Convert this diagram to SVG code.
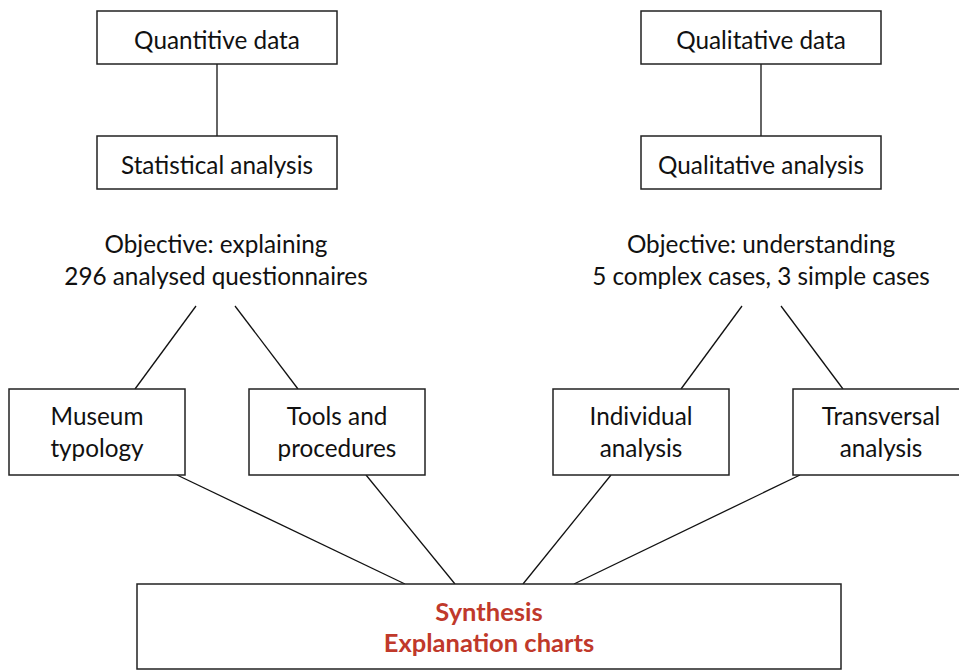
<svg xmlns="http://www.w3.org/2000/svg" width="959" height="670" viewBox="0 0 959 670">
<style>
.box{fill:#fff;stroke:#222;stroke-width:1.5}
.t{font-family:Lato,"Open Sans","Liberation Sans",sans-serif;font-size:24.3px;fill:#111;text-anchor:middle}
.r{font-family:Lato,"Open Sans","Liberation Sans",sans-serif;font-size:25.5px;font-weight:bold;fill:#c0392b;text-anchor:middle}
.c{stroke:#111;stroke-width:1.3;fill:none}
</style>
<rect width="959" height="670" fill="#fff"/>
<g id="connectors">
<line class="c" x1="217" y1="64" x2="217" y2="136"/>
<line class="c" x1="761" y1="64" x2="761" y2="136"/>
<line class="c" x1="196" y1="306" x2="135" y2="389"/>
<line class="c" x1="235" y1="306" x2="298" y2="389"/>
<line class="c" x1="742" y1="306" x2="681" y2="389"/>
<line class="c" x1="781" y1="306" x2="843" y2="389"/>
<line class="c" x1="177" y1="475" x2="405" y2="584"/>
<line class="c" x1="366" y1="475" x2="455" y2="584"/>
<line class="c" x1="611" y1="475" x2="523" y2="584"/>
<line class="c" x1="800" y1="475" x2="574" y2="584"/>
</g>
<g id="quantitive">
<rect class="box" x="97" y="11" width="240" height="53"/>
<text class="t" x="217" y="49">Quantitive data</text>
</g>
<g id="statistical">
<rect class="box" x="97" y="136" width="240" height="53"/>
<text class="t" x="217" y="174">Statistical analysis</text>
</g>
<g id="qualitative">
<rect class="box" x="641" y="11" width="240" height="53"/>
<text class="t" x="761" y="49">Qualitative data</text>
</g>
<g id="qualanalysis">
<rect class="box" x="641" y="136" width="240" height="53"/>
<text class="t" x="761" y="174">Qualitative analysis</text>
</g>
<g id="objective-left">
<text class="t" x="216" y="253">Objective: explaining</text>
<text class="t" x="216" y="285">296 analysed questionnaires</text>
</g>
<g id="objective-right">
<text class="t" x="761" y="253">Objective: understanding</text>
<text class="t" x="761" y="285">5 complex cases, 3 simple cases</text>
</g>
<g id="museum">
<rect class="box" x="9" y="389" width="176" height="86"/>
<text class="t" x="97" y="425">Museum</text>
<text class="t" x="97" y="457">typology</text>
</g>
<g id="tools">
<rect class="box" x="249" y="389" width="176" height="86"/>
<text class="t" x="337" y="425">Tools and</text>
<text class="t" x="337" y="457">procedures</text>
</g>
<g id="individual">
<rect class="box" x="553" y="389" width="176" height="86"/>
<text class="t" x="641" y="425">Individual</text>
<text class="t" x="641" y="457">analysis</text>
</g>
<g id="transversal">
<rect class="box" x="793" y="389" width="176" height="86"/>
<text class="t" x="881" y="425">Transversal</text>
<text class="t" x="881" y="457">analysis</text>
</g>
<g id="synthesis">
<rect class="box" x="137" y="584" width="704" height="85"/>
<text class="r" x="489" y="621">Synthesis</text>
<text class="r" x="489" y="652">Explanation charts</text>
</g>
</svg>
